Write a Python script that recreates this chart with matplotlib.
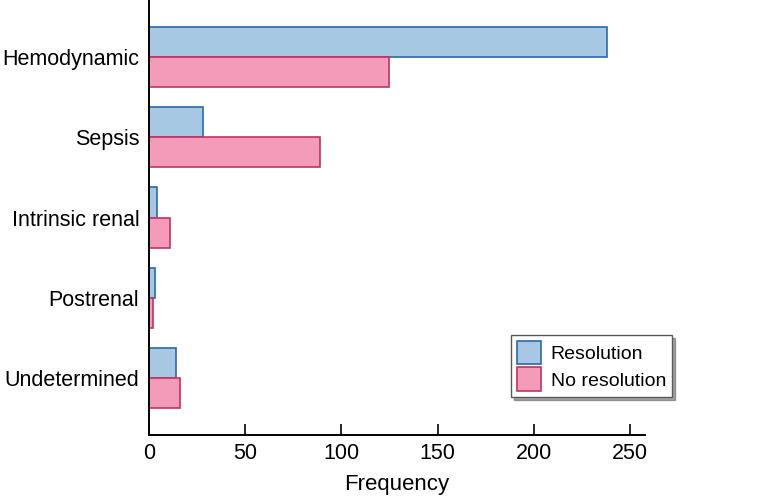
import matplotlib
matplotlib.use("Agg")
import matplotlib.pyplot as plt
import numpy as np

plt.rcParams["font.family"] = ["Liberation Sans", "DejaVu Sans"]

categorias = ["Hemodynamic", "Sepsis", "Intrinsic renal", "Postrenal", "Undetermined"]
resolucao = [238, 28, 4, 3, 14]
sem_resolucao = [125, 89, 11, 2, 16]
ticks_x = [0, 50, 100, 150, 200, 250]

AZUL, AZUL_BORDA = "#a6c8e2", "#2a6aab"
ROSA, ROSA_BORDA = "#f39bb8", "#c4325e"

fig = plt.figure(figsize=(7.75, 5.01), dpi=100)
ax = fig.add_axes([0.1923, 0.1317, 0.6403, 0.8683])

y = np.arange(len(categorias))
h = 0.375
ax.barh(y - h / 2, resolucao, height=h, color=AZUL, edgecolor=AZUL_BORDA,
        linewidth=1.2, label="Resolution")
ax.barh(y + h / 2, sem_resolucao, height=h, color=ROSA, edgecolor=ROSA_BORDA,
        linewidth=1.2, label="No resolution")

ax.set_ylim(4.705, -0.705)
ax.set_xlim(0, 258)
ax.set_yticks(y)
ax.set_yticklabels(categorias, fontsize=15.5)
ax.set_xticks(ticks_x)
ax.tick_params(axis="x", direction="in", length=8, width=1.2, labelsize=15.5, pad=6)
ax.tick_params(axis="y", length=0, pad=7)
ax.set_xlabel("Frequency", fontsize=16, labelpad=7)

for lado in ("top", "right"):
    ax.spines[lado].set_visible(False)
for lado in ("left", "bottom"):
    ax.spines[lado].set_linewidth(1.4)

leg = ax.legend(loc="lower right", bbox_to_anchor=(0.867, 0.208),
                bbox_transform=fig.transFigure, borderaxespad=0,
                fontsize=14, fancybox=False, shadow=True, edgecolor="0.35",
                handlelength=1.25, handleheight=1.5, handletextpad=0.5,
                borderpad=0.3, labelspacing=0.15, framealpha=1)
leg.get_frame().set_linewidth(1.0)

fig.savefig("out.png", facecolor="white")
